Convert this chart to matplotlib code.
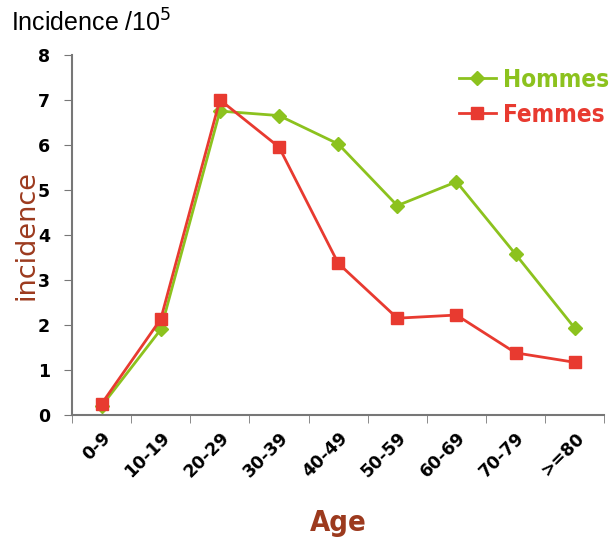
import numpy as np
import matplotlib.pyplot as plt

ages = ['0-9', '10-19', '20-29', '30-39', '40-49', '50-59', '60-69', '70-79', '>=80']
hommes = [0.2, 1.9, 6.75, 6.65, 6.02, 4.65, 5.18, 3.57, 1.93]
femmes = [0.25, 2.13, 7.0, 5.95, 3.37, 2.15, 2.22, 1.38, 1.17]

green = '#8cc21e'
red = '#e83a30'
brown = '#9c3a1e'

fig = plt.figure(figsize=(6.16, 5.4), dpi=100)
ax = fig.add_axes([0.117, 0.2315, 0.864, 0.667])

x = np.arange(len(ages)) + 0.5
ax.plot(x, hommes, color=green, lw=2, marker='D', ms=7, label='Hommes')
ax.plot(x, femmes, color=red, lw=2, marker='s', ms=8, label='Femmes')

ax.set_xlim(0, len(ages))
ax.set_ylim(0, 8)
ax.set_yticks(range(9))
ax.set_yticklabels([str(i) for i in range(9)], fontweight='bold', fontsize=12.5)
ax.set_xticks(x)
ax.set_xticklabels(ages, rotation=45, ha='right', va='top', rotation_mode='anchor',
                   fontweight='bold', fontsize=12.5)
ax.tick_params(axis='x', which='major', length=0, pad=10)
ax.set_xticks(np.arange(len(ages) + 1), minor=True)
ax.tick_params(axis='x', which='minor', length=6, color='#777777', direction='out')
ax.tick_params(axis='y', length=6, color='#777777', direction='out', pad=10)

for s in ['top', 'right']:
    ax.spines[s].set_visible(False)
for s in ['left', 'bottom']:
    ax.spines[s].set_color('#777777')
    ax.spines[s].set_linewidth(1.5)

ax.set_ylabel('incidence', color=brown, fontsize=19.5)
ax.yaxis.set_label_coords(-0.062, 0.5)
ax.set_xlabel('Age', color=brown, fontsize=21, fontweight='bold',
              fontstretch='condensed', labelpad=20)
fig.text(0.018, 0.958, 'Incidence /10$^5$', fontsize=18, va='center',
         family=['Liberation Sans', 'DejaVu Sans'])

leg = ax.legend(loc='upper right', bbox_to_anchor=(1.05, 1.025), frameon=False,
                handlelength=1.5, handletextpad=0.3, labelspacing=0.45,
                prop={'weight': 'bold', 'size': 17.5, 'stretch': 'condensed'})
for t, c in zip(leg.get_texts(), [green, red]):
    t.set_color(c)

fig.savefig('out.png', dpi=100)
